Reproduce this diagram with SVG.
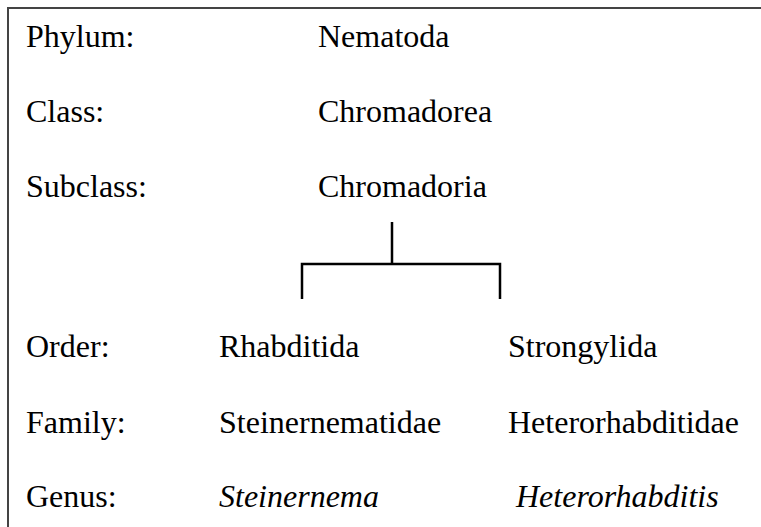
<svg xmlns="http://www.w3.org/2000/svg" width="761" height="527" viewBox="0 0 761 527">
<style>
.t{font-size:32px;fill:#000}
.it{font-style:italic}
.frame{fill:none;stroke:#444;stroke-width:2}
.conn{fill:none;stroke:#000;stroke-width:2.5}
</style>
<rect width="761" height="527" fill="#fff"/>
<path class="frame" d="M8,527 V8 H761"/>
<g font-family="Liberation Serif, Times New Roman, serif" class="t">
<g id="labels">
<text x="26" y="47">Phylum:</text>
<text x="26" y="122">Class:</text>
<text x="26" y="197">Subclass:</text>
<text x="26" y="357">Order:</text>
<text x="26" y="433">Family:</text>
<text x="26" y="507">Genus:</text>
</g>
<g id="nematoda"><text x="318" y="47">Nematoda</text></g>
<g id="chromadorea"><text x="318" y="122">Chromadorea</text></g>
<g id="chromadoria"><text x="318" y="197">Chromadoria</text></g>
<g id="rhabditida"><text x="219" y="357">Rhabditida</text></g>
<g id="strongylida"><text x="508" y="357">Strongylida</text></g>
<g id="steinernematidae"><text x="219" y="433">Steinernematidae</text></g>
<g id="heterorhabditidae"><text x="508" y="433">Heterorhabditidae</text></g>
<g id="steinernema"><text class="it" x="219" y="507">Steinernema</text></g>
<g id="heterorhabditis"><text class="it" x="516" y="507">Heterorhabditis</text></g>
</g>
<g id="connectors">
<path class="conn" d="M392,222 V264 M302,299 V264 H500 V299"/>
</g>
</svg>
